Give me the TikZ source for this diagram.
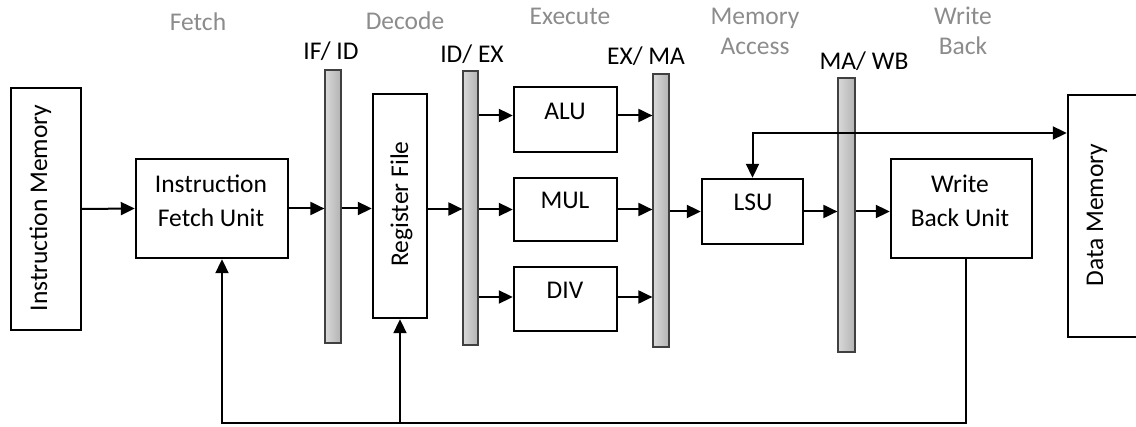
\documentclass[tikz,border=0pt]{standalone}
\usepackage{fontspec}
\setmainfont{Carlito}
\usetikzlibrary{arrows.meta}
\definecolor{stagegray}{RGB}{140,140,140}
\tikzset{
  box/.style={draw, line width=2.4pt, rectangle, inner sep=0pt},
  bar/.style={draw=black!75, line width=1.2pt, rectangle, inner sep=0pt,
    left color=gray!30, middle color=gray!6, right color=gray!60},
  arr/.style={line width=2pt, -{Triangle[length=14pt,width=13pt]}},
  biarr/.style={line width=2pt, {Triangle[length=14pt,width=13pt]}-{Triangle[length=14pt,width=13pt]}},
  wire/.style={line width=2pt},
  txt/.style={font=\fontsize{25.5}{34}\selectfont, inner sep=0pt, align=center},
  stage/.style={font=\fontsize{25.5}{30}\selectfont, inner sep=0pt, align=center, text=stagegray},
}
\begin{document}
\begin{tikzpicture}[x=1pt,y=-1pt]
\useasboundingbox (0,0) rectangle (1136,427);
% boxes
\node[box, minimum width=70pt, minimum height=242pt] (im) at (46,209) {};
\node[box, minimum width=152pt, minimum height=99pt] (ifu) at (212,208.5) {};
\node[box, minimum width=54pt, minimum height=224pt] (rf) at (400,206) {};
\node[box, minimum width=103pt, minimum height=65pt] (alu) at (565.5,119.5) {};
\node[box, minimum width=103pt, minimum height=63pt] (mul) at (565.5,209.5) {};
\node[box, minimum width=103pt, minimum height=64pt] (div) at (565.5,299) {};
\node[box, minimum width=101pt, minimum height=65pt] (lsu) at (752.5,211.5) {};
\node[box, minimum width=141pt, minimum height=99pt] (wbu) at (961.5,208.5) {};
\node[box, minimum width=80pt, minimum height=242pt] (dm) at (1108,216) {};
% pipeline registers
\node[bar, minimum width=16pt, minimum height=273pt] (ifid) at (333,206.5) {};
\node[bar, minimum width=15pt, minimum height=274pt] (idex) at (470.5,208) {};
\node[bar, minimum width=16pt, minimum height=273pt] (exma) at (661,210.5) {};
\node[bar, minimum width=17pt, minimum height=274pt] (mawb) at (846.5,215) {};
% box texts
\node[txt, rotate=90, anchor=base] (imt) at (47,208) {Instruction Memory};
\node[txt, anchor=base] (ifut) at (211,227) {Instruction\\Fetch Unit};
\node[txt, rotate=90, anchor=base] (rft) at (408,204) {Register File};
\node[txt, anchor=base] (alut) at (565,120) {ALU};
\node[txt, anchor=base] (mult) at (565,209) {MUL};
\node[txt, anchor=base] (divt) at (565,299) {DIV};
\node[txt, anchor=base] (lsut) at (753,211) {LSU};
\node[txt, anchor=base] (wbut) at (960,227) {Write\\Back Unit};
\node[txt, rotate=90, anchor=base] (dmt) at (1103,215) {Data Memory};
% register labels
\node[txt, anchor=base] (ifidl) at (331,59.3) {IF/ ID};
\node[txt, anchor=base] (idexl) at (472,62.7) {ID/ EX};
\node[txt, anchor=base] (exmal) at (646,65) {EX/ MA};
\node[txt, anchor=base] (mawbl) at (864,70) {MA/ WB};
% stage labels
\node[stage, anchor=base] (sf) at (198,30.5) {Fetch};
\node[stage, anchor=base] (sd) at (405,30) {Decode};
\node[stage, anchor=base] (se) at (570,25) {Execute};
\node[stage, anchor=base] (sm) at (755,54.5) {Memory\\Access};
\node[stage, anchor=base] (sw) at (963,55) {Write\\Back};
% connectors
\draw[arr] (im.east) -- (ifu.west);
\draw[arr] (ifu.east) -- (ifu.east -| ifid.west);
\draw[arr] (ifid.east |- ifu.east) -- (rf.west |- ifu.east);
\draw[arr] ([yshift=-3pt]rf.east) -- ([yshift=-3pt]rf.east -| idex.west);
\draw[arr] ([yshift=4pt]alu.west -| idex.east) -- ([yshift=4pt]alu.west);
\draw[arr] (mul.west -| idex.east) -- (mul.west);
\draw[arr] ([yshift=2pt]div.west -| idex.east) -- ([yshift=2pt]div.west);
\draw[arr] ([yshift=4pt]alu.east) -- ([yshift=4pt]alu.east -| exma.west);
\draw[arr] (mul.east) -- (mul.east -| exma.west);
\draw[arr] ([yshift=2pt]div.east) -- ([yshift=2pt]div.east -| exma.west);
\draw[arr] (lsu.west -| exma.east) -- (lsu.west);
\draw[arr] (lsu.east) -- (lsu.east -| mawb.west);
\draw[arr] (mawb.east |- lsu.east) -- (wbu.west |- lsu.east);
\coordinate (dmin) at (1068,133);
\draw[biarr] (lsu.north) |- (dm.west |- dmin);
\coordinate (fbr) at (966,423);
\coordinate (fbl) at (222,423);
\draw[arr] (wbu.south -| fbr) -- (fbr) -- (fbl) -- (ifu.south -| fbl);
\draw[arr] (rf.south |- fbl) -- (rf.south);
\end{tikzpicture}
\end{document}
